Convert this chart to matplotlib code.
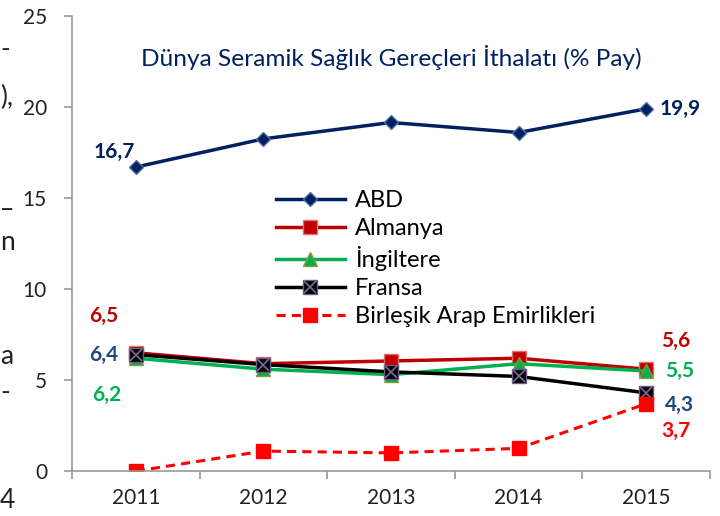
import matplotlib.pyplot as plt
from matplotlib.legend_handler import HandlerTuple

plt.rcParams['font.family'] = ['Lato', 'DejaVu Sans']

years = ['2011', '2012', '2013', '2014', '2015']
abd = [16.7, 18.25, 19.15, 18.6, 19.9]
almanya = [6.5, 5.9, 6.05, 6.2, 5.6]
ingiltere = [6.2, 5.6, 5.3, 5.9, 5.5]
fransa = [6.4, 5.85, 5.45, 5.2, 4.3]
bae = [0.0, 1.1, 1.0, 1.25, 3.7]

navy = '#002060'
red = '#C00000'
green = '#00B050'

fig = plt.figure(figsize=(7.2, 5.16), dpi=100)
ax = fig.add_axes([0.1, 0.087, 0.886, 0.882])
x = list(range(1, len(years) + 1))

h_abd, = ax.plot(x, abd, color=navy, lw=2.5, marker='D', ms=7,
                 mfc=navy, mec='#4F6FA0', label='ABD')
h_alm, = ax.plot(x, almanya, color=red, lw=2.5, marker='s', ms=10,
                 mfc=red, mec='#E07070', label='Almanya')
h_ing, = ax.plot(x, ingiltere, color=green, lw=2.5, marker='^', ms=10,
                 mfc=green, mec='#8A9A3A', label='İngiltere')
h_fr, = ax.plot(x, fransa, color='black', lw=2.5, marker='s', ms=10,
                mfc='black', mec='#6A5A8A')
h_frx, = ax.plot(x, fransa, ls='none', marker='x', ms=9, mew=1.2, color='#7A6A9A')
h_bae, = ax.plot(x, bae, color='#FF0000', lw=2.2, ls=(0, (3, 2)), marker='s',
                 ms=10, mfc='#FF0000', mec='#FF0000', label='Birleşik Arap Emirlikleri')

ax.set_xlim(0.5, 5.5)
ax.set_ylim(0, 25)
ax.set_yticks([0, 5, 10, 15, 20, 25])
ax.set_xticks(x)
ax.set_xticklabels(years)
ax.set_xticks([0.5, 1.5, 2.5, 3.5, 4.5, 5.5], minor=True)
ax.tick_params(axis='x', which='major', length=0, labelsize=15, pad=12, colors='#222222')
ax.tick_params(axis='x', which='minor', length=6, color='#999999', width=1.2)
ax.tick_params(axis='y', length=6, color='#999999', width=1.2, labelsize=15,
               pad=12, labelcolor='#222222')
for s in ['top', 'right']:
    ax.spines[s].set_visible(False)
for s in ['left', 'bottom']:
    ax.spines[s].set_color('#999999')
    ax.spines[s].set_linewidth(1.2)

ax.set_title('Dünya Seramik Sağlık Gereçleri İthalatı (% Pay)', color=navy,
             fontsize=17.6, y=0.872)

lbl = dict(fontsize=15, fontweight='bold', ha='center', va='center')
ax.text(0.83, 16.7 + 0.85, '16,7', color=navy, **lbl)
ax.text(5.27, 19.9, '19,9', color=navy, **lbl)
ax.text(0.75, 6.5 + 2.0, '6,5', color=red, **lbl)
ax.text(0.75, 6.4, '6,4', color='#1F497D', **lbl)
ax.text(0.77, 6.2 - 2.0, '6,2', color=green, **lbl)
ax.text(5.23, 5.6 + 1.55, '5,6', color=red, **lbl)
ax.text(5.26, 5.5, '5,5', color=green, **lbl)
ax.text(5.26, 4.3 - 0.65, '4,3', color='#1F497D', **lbl)
ax.text(5.23, 3.7 - 1.5, '3,7', color='#FF0000', **lbl)

ax.legend([h_abd, h_alm, h_ing, (h_fr, h_frx), h_bae],
          ['ABD', 'Almanya', 'İngiltere', 'Fransa', 'Birleşik Arap Emirlikleri'],
          handler_map={tuple: HandlerTuple(ndivide=1)},
          loc='upper left', bbox_to_anchor=(0.32, 0.618), frameon=False,
          borderpad=0, borderaxespad=0,
          fontsize=17, handlelength=2.9, labelspacing=0.3, handletextpad=0.45)

# cropped text fragments at the left edge
for ty, t in [(0.905, '-'), (0.812, '),'), (0.615, '_'), (0.53, 'n'),
              (0.31, 'a'), (0.24, '-'), (0.03, '4')]:
    fig.text(0.0, ty, t, fontsize=19, color='#222222', ha='left', va='center')

fig.savefig('out.png', dpi=100)
